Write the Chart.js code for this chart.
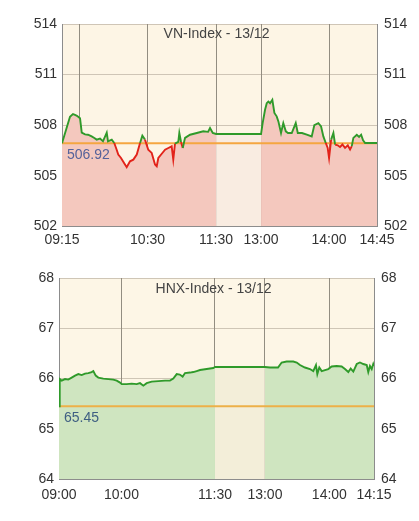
<!DOCTYPE html>
<html><head><meta charset="utf-8">
<script src="https://cdn.jsdelivr.net/npm/chart.js@4/dist/chart.umd.min.js"></script>
<style>
html,body{margin:0;padding:0;background:#fff;}
#w1{position:absolute;left:0;top:0;width:419px;height:260px;}
#w2{position:absolute;left:0;top:260px;width:419px;height:261px;}
</style></head><body>
<div id="w1"><canvas id="c1"></canvas></div>
<div id="w2"><canvas id="c2"></canvas></div>
<script>
// ---------- VN-Index ----------
const vnTitle = 'VN-Index - 13/12';
const vnRef = 506.92;
const vnYMin = 502, vnYMax = 514, vnYStep = 3;
const vnTickPos = [0, 15, 75, 135, 174.4, 234, 276];
const vnTickLabels = ['09:15', '', '10:30', '11:30', '13:00', '14:00', '14:45'];
const vnBreak = [135, 174.4];
const vnX = [0, 7.0, 9.6, 11.4, 13.1, 15.8, 17.3, 20.2, 22.8, 26.0, 28.0, 30.4, 33.3, 35.9, 39.2, 40.3, 43.6, 45.8, 47.9, 49.3, 51.7, 55.2, 56.7, 59.6, 62.5, 65.5, 68.4, 70.4, 72.7, 75.6, 78.6, 81.5, 83.0, 84.4, 87.4, 90.3, 93.2, 96.1, 97.5, 99.0, 101.9, 102.8, 104.3, 105.8, 107.8, 112.2, 118.1, 123.8, 128.0, 129.7, 132.1, 135.0, 174.4, 175.8, 177.9, 179.4, 180.8, 182.3, 184.3, 186.1, 188.1, 189.6, 191.9, 193.9, 196.1, 198.0, 201.3, 204.8, 206.6, 210.3, 214.5, 218.8, 221.1, 224.6, 227.0, 229.0, 231.1, 232.8, 234.0, 235.8, 237.8, 239.3, 241.6, 243.6, 245.7, 248.0, 250.4, 252.4, 253.9, 255.3, 258.3, 260.3, 262.1, 263.8, 265.6, 276];
const vnY = [506.92, 508.5, 508.65, 508.6, 508.55, 508.4, 507.55, 507.45, 507.43, 507.33, 507.25, 507.14, 507.2, 507.04, 507.55, 507.04, 507.14, 506.94, 506.54, 506.25, 506.05, 505.66, 505.5, 505.85, 505.95, 506.25, 506.94, 507.37, 507.14, 506.54, 506.35, 505.66, 505.56, 506.05, 506.3, 506.54, 506.64, 506.74, 505.95, 506.9, 507.0, 507.53, 507.0, 506.64, 507.24, 507.43, 507.53, 507.63, 507.6, 507.83, 507.53, 507.47, 507.47, 508.12, 508.91, 509.3, 509.4, 509.3, 509.5, 508.72, 508.52, 508.22, 507.53, 508.12, 507.63, 507.53, 507.53, 508.12, 507.53, 507.53, 507.43, 507.33, 508.0, 508.12, 507.92, 507.33, 506.94, 506.64, 506.05, 507.14, 507.53, 506.84, 506.8, 506.7, 506.85, 506.65, 506.8, 506.55, 506.75, 507.24, 507.43, 507.3, 507.43, 507.1, 506.94, 506.94];

// ---------- HNX-Index ----------
const hnxTitle = 'HNX-Index - 13/12';
const hnxRef = 65.45;
const hnxYMin = 64, hnxYMax = 68, hnxYStep = 1;
const hnxTickPos = [0, 60, 150, 198, 260, 302.9];
const hnxTickLabels = ['09:00', '10:00', '11:30', '13:00', '14:00', '14:15'];
const hnxBreak = [150, 198];
const hnxX = [0, 0.7, 2.6, 5.8, 8.9, 12.2, 15.4, 18.6, 21.8, 25.0, 28.2, 31.4, 33.0, 35.3, 37.8, 42.6, 47.4, 52.2, 55.5, 58.7, 60.3, 65.1, 69.9, 74.7, 77.9, 81.1, 84.3, 89.1, 95.5, 101.9, 106.7, 109.9, 113.2, 116.1, 118.9, 121.2, 126.0, 129.1, 132.4, 135.6, 142.0, 148.4, 150, 198, 202.9, 210.6, 214.1, 218.9, 225.3, 228.6, 231.7, 236.5, 241.3, 244.5, 247.1, 248.4, 250.3, 252.6, 255.8, 258.9, 262.2, 267.0, 271.8, 275.0, 278.2, 280.5, 283.0, 286.3, 289.4, 292.6, 295.9, 297.4, 299.0, 300.7, 302.2, 302.9];
const hnxY = [65.45, 65.99, 65.96, 65.99, 65.98, 66.02, 66.06, 66.09, 66.07, 66.1, 66.11, 66.13, 66.15, 66.06, 66.02, 66.0, 65.99, 65.98, 65.96, 65.92, 65.89, 65.89, 65.9, 65.89, 65.91, 65.86, 65.91, 65.94, 65.95, 65.96, 65.96, 66.0, 66.09, 66.08, 66.04, 66.11, 66.12, 66.13, 66.15, 66.17, 66.19, 66.21, 66.23, 66.23, 66.22, 66.22, 66.32, 66.34, 66.34, 66.32, 66.27, 66.22, 66.19, 66.15, 66.27, 66.09, 66.22, 66.15, 66.17, 66.19, 66.24, 66.25, 66.24, 66.19, 66.13, 66.2, 66.14, 66.29, 66.32, 66.29, 66.27, 66.13, 66.25, 66.19, 66.29, 66.25];

const FONT = "'Liberation Sans', Arial, Helvetica, sans-serif";
const UP = '#2f9a2a', DOWN = '#e2231a';

function makeChart(id, d) {
  const pts = d.x.map((x, i) => ({x: x, y: d.y[i]}));
  const xMax = d.ticks[d.ticks.length - 1];
  const deco = {
    id: 'deco' + id,
    beforeDraw(chart) {
      const {ctx, chartArea: a} = chart;
      ctx.save();
      ctx.fillStyle = d.bg;
      ctx.fillRect(a.left, a.top, a.right - a.left, a.bottom - a.top);
      ctx.restore();
    },
    afterDatasetsDraw(chart) {
      const {ctx, chartArea: a, scales} = chart;
      ctx.save();
      ctx.font = '14px ' + FONT;
      ctx.fillStyle = '#444';
      ctx.textAlign = 'center';
      ctx.textBaseline = 'middle';
      ctx.fillText(d.title, (a.left + a.right) / 2 - 3, a.top + d.titleDy);
      ctx.fillStyle = d.refLabelColor;
      ctx.textAlign = 'left';
      ctx.textBaseline = 'top';
      ctx.fillText(d.ref.toFixed(2), a.left + 5, scales.y.getPixelForValue(d.ref) + 5);
      ctx.restore();
    }
  };
  const inBreak = (c) => c.p0.parsed.x >= d.brk[0] && c.p1.parsed.x <= d.brk[1];
  return new Chart(document.getElementById(id), {
    type: 'line',
    data: {
      datasets: [
        {
          data: pts,
          borderWidth: 1.9,
          pointRadius: 0,
          tension: 0,
          fill: false,
          borderColor: UP,
          order: 0,
          segment: {
            borderColor: c => ((c.p0.parsed.y + c.p1.parsed.y) / 2 >= d.ref ? UP : DOWN)
          }
        },
        {
          data: [{x: 0, y: d.ref}, {x: xMax, y: d.ref}],
          borderColor: d.refColor,
          borderWidth: 2,
          pointRadius: 0,
          fill: false,
          order: 1
        },
        {
          data: pts,
          borderWidth: 0,
          borderColor: 'rgba(0,0,0,0)',
          pointRadius: 0,
          tension: 0,
          fill: 'start',
          backgroundColor: d.fillColor,
          order: 2,
          segment: {
            backgroundColor: c => (inBreak(c) ? d.breakColor : d.fillColor)
          }
        }
      ]
    },
    options: {
      responsive: true,
      maintainAspectRatio: false,
      animation: false,
      devicePixelRatio: 1,
      layout: {padding: {top: d.padTop, bottom: d.padBottom, left: 0, right: 0}},
      plugins: {
        legend: {display: false},
        tooltip: {enabled: false},
        filler: {drawTime: 'beforeDatasetsDraw'}
      },
      scales: {
        x: {
          type: 'linear',
          min: 0,
          max: xMax,
          afterBuildTicks: s => { s.ticks = d.ticks.map(v => ({value: v})); },
          ticks: {
            autoSkip: false,
            maxRotation: 0,
            padding: d.xPad,
            color: '#333',
            font: {family: FONT, size: 14},
            callback: (v, i) => d.tickLabels[i]
          },
          grid: {color: 'rgba(110,105,95,0.75)', drawTicks: false, lineWidth: 1},
          border: {display: true, color: '#8c8c8c'}
        },
        y: {
          position: 'left',
          min: d.yMin, max: d.yMax,
          afterFit: s => { s.width = d.leftW; },
          ticks: {stepSize: d.yStep, padding: 5, color: '#333', font: {family: FONT, size: 14}},
          grid: {color: 'rgba(150,140,125,0.45)', drawTicks: false},
          border: {display: true, color: '#8c8c8c'}
        },
        y2: {
          position: 'right',
          display: true,
          min: d.yMin, max: d.yMax,
          afterFit: s => { s.width = d.rightW; },
          ticks: {stepSize: d.yStep, padding: 7, color: '#333', font: {family: FONT, size: 14}},
          grid: {display: false, drawTicks: false},
          border: {display: true, color: '#8c8c8c'}
        }
      }
    },
    plugins: [deco]
  });
}

makeChart('c1', {
  x: vnX, y: vnY, ref: vnRef, title: vnTitle,
  ticks: vnTickPos, tickLabels: vnTickLabels, brk: vnBreak,
  yMin: vnYMin, yMax: vnYMax, yStep: vnYStep,
  bg: '#fdf5e5', fillColor: '#f4c8be', breakColor: '#f9ece1',
  refColor: '#f5a640', refLabelColor: '#56629a',
  padTop: 24, padBottom: 5, xPad: 6, leftW: 62, rightW: 42, titleDy: 10
});
makeChart('c2', {
  x: hnxX, y: hnxY, ref: hnxRef, title: hnxTitle,
  ticks: hnxTickPos, tickLabels: hnxTickLabels, brk: hnxBreak,
  yMin: hnxYMin, yMax: hnxYMax, yStep: hnxYStep,
  bg: '#fdf6e6', fillColor: '#cfe5c0', breakColor: '#f3eed9',
  refColor: '#edb048', refLabelColor: '#3f5f82',
  padTop: 18, padBottom: 9, xPad: 8, leftW: 59, rightW: 45, titleDy: 11
});
</script>
</body></html>
